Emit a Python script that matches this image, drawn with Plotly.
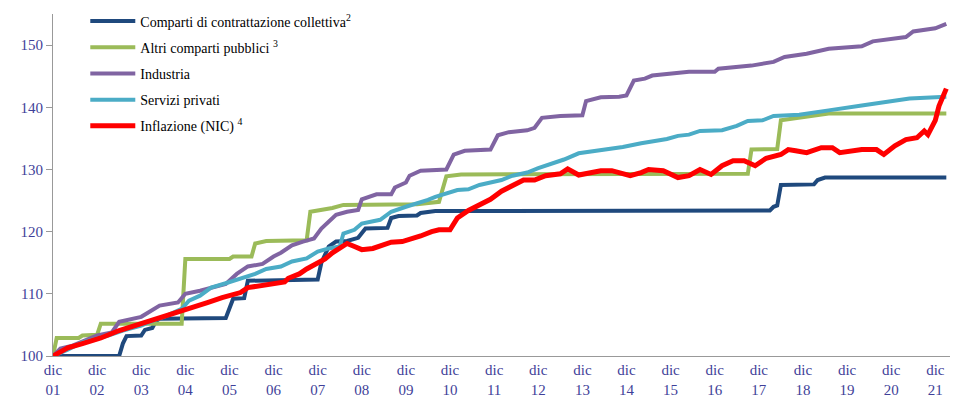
import plotly.graph_objects as go

# Month index: 0 = December 2001
tick_months = [0, 12, 24, 36, 48, 60, 72, 84, 96, 108, 120, 132, 144, 156, 168, 180, 192, 204, 216, 228, 240]
tick_labels = ["dic<br>01", "dic<br>02", "dic<br>03", "dic<br>04", "dic<br>05", "dic<br>06", "dic<br>07",
               "dic<br>08", "dic<br>09", "dic<br>10", "dic<br>11", "dic<br>12", "dic<br>13", "dic<br>14",
               "dic<br>15", "dic<br>16", "dic<br>17", "dic<br>18", "dic<br>19", "dic<br>20", "dic<br>21"]

blue_months = [0, 18, 19, 20, 24, 25, 27, 28, 29, 47, 49, 52, 53, 72, 73, 75, 77, 80, 83, 85, 91, 92, 94,
               99, 100, 104, 195, 196, 197, 198, 207, 208, 210, 243]
blue_values = [100, 100, 102, 103.2, 103.3, 104.2, 104.5, 105.6, 106, 106.1, 109.2, 109.3, 112.1, 112.3,
               115, 117.6, 118.4, 118.5, 119, 120.5, 120.6, 122.2, 122.5, 122.6, 123, 123.3, 123.4, 124,
               124.2, 127.5, 127.6, 128.3, 128.7, 128.7]

green_months = [0, 1, 7, 8, 12, 13, 35, 36, 48, 49, 54, 55, 58, 69, 70, 73, 76, 79, 99, 105, 107, 111,
                189, 190, 197, 198, 203, 208, 211, 243]
green_values = [100, 102.9, 102.9, 103.3, 103.4, 105.2, 105.2, 115.6, 115.6, 116, 116, 118.1, 118.5, 118.6,
                123.2, 123.5, 123.8, 124.3, 124.4, 124.8, 128.9, 129.2, 129.3, 133.2, 133.3, 137.9, 138.3,
                138.7, 139, 139]

purple_months = [0, 2, 5, 8, 12, 16, 18, 24, 26, 29, 34, 36, 40, 43, 47, 50, 53, 57, 60, 62, 65, 68, 71,
                 73, 75, 77, 80, 83, 84, 88, 92, 93, 96, 97, 100, 104, 107, 109, 112, 119, 121, 124, 129,
                 131, 133, 138, 144, 145, 149, 154, 156, 158, 161, 163, 168, 173, 180, 181, 190, 196, 199,
                 205, 211, 220, 223, 232, 234, 240, 243]
purple_values = [100, 101.2, 101.6, 102.3, 103.3, 103.8, 105.5, 106.3, 107, 108.1, 108.6, 110, 110.5, 111,
                 111.6, 113.2, 114.4, 114.8, 116, 116.6, 117.8, 118.4, 118.9, 120.5, 121.6, 122.7, 123.2,
                 123.5, 125.2, 126, 126, 127.1, 127.9, 129, 129.8, 130, 130, 132.4, 133, 133.2, 135.5, 136,
                 136.3, 136.7, 138.3, 138.6, 138.7, 141, 141.6, 141.7, 141.9, 144.3, 144.6, 145.1, 145.4,
                 145.7, 145.7, 146.2, 146.7, 147.3, 148.1, 148.6, 149.4, 149.8, 150.6, 151.3, 152.2, 152.7,
                 153.4]

cyan_months = [0, 4, 8, 15, 19, 24, 26, 31, 35, 37, 40, 43, 47, 51, 55, 58, 62, 65, 69, 72, 75, 78, 79, 82,
               84, 89, 92, 96, 99, 102, 104, 106, 110, 113, 116, 119, 122, 125, 129, 132, 135, 139, 143,
               148, 151, 155, 160, 164, 167, 170, 173, 176, 182, 186, 189, 193, 196, 203, 205, 211, 220,
               227, 233, 243]
cyan_values = [100, 101, 102.2, 103.3, 104.1, 104.9, 105.4, 106.5, 107.6, 108.9, 109.7, 111, 111.7, 112.4,
               113.2, 114, 114.4, 115.2, 115.7, 116.8, 117.3, 117.6, 119.7, 120.3, 121.3, 121.9, 123.2, 124,
               124.5, 125.1, 125.6, 126, 126.7, 126.8, 127.5, 127.9, 128.3, 129, 129.5, 130.2, 130.8, 131.6,
               132.6, 133, 133.3, 133.6, 134.2, 134.6, 134.9, 135.4, 135.6, 136.2, 136.3, 137, 137.8, 137.9,
               138.6, 138.8, 139, 139.5, 140.3, 140.9, 141.4, 141.7]

red_months = [0, 4, 8, 13, 18, 24, 28, 33, 37, 42, 46, 51, 53, 57, 60, 63, 64, 67, 69, 72, 74, 76, 78, 80,
              82, 84, 87, 90, 92, 95, 97, 100, 103, 105, 108, 110, 113, 115, 119, 122, 125, 128, 131, 134,
              138, 140, 143, 146, 149, 152, 157, 160, 162, 166, 170, 173, 176, 179, 182, 185, 188, 191, 194,
              198, 200, 202, 205, 209, 212, 214, 220, 224, 226, 229, 232, 235, 237, 238, 240, 241, 242, 243]
red_values = [100, 101.3, 102, 102.9, 104.1, 105.2, 106, 106.8, 107.6, 108.6, 109.4, 110.2, 111, 111.3,
              111.7, 111.9, 112.5, 113.2, 114, 114.9, 115.6, 116.6, 117.3, 118.1, 117.6, 117.1, 117.3, 117.9,
              118.3, 118.4, 118.7, 119.3, 120, 120.3, 120.3, 122.2, 123.4, 124, 125.2, 126.5, 127.4, 128.3,
              128.3, 129, 129.3, 130.1, 129.1, 129.5, 129.8, 129.8, 129, 129.5, 130, 129.8, 128.7, 129, 130,
              129.2, 130.6, 131.4, 131.4, 130.6, 131.8, 132.4, 133.2, 133, 132.7, 133.5, 133.5, 132.7, 133.2,
              133.2, 132.4, 133.8, 134.8, 135.1, 136.2, 135.6, 137.9, 140.2, 141.7, 143]

series = [
    ("Comparti di contrattazione collettiva<sup>2</sup>", blue_months, blue_values, "#1F497D", 4),
    ("Altri comparti pubblici <sup>3</sup>", green_months, green_values, "#9BBB59", 4),
    ("Industria", purple_months, purple_values, "#8064A2", 4),
    ("Servizi privati", cyan_months, cyan_values, "#4BACC6", 4),
    ("Inflazione (NIC) <sup>4</sup>", red_months, red_values, "#FF0000", 5),
]

fig = go.Figure()
for i, (name, xs, ys, color, w) in enumerate(series):
    fig.add_trace(go.Scatter(x=xs, y=ys, mode="lines", name=name, legendgroup=str(i),
                             line=dict(color=color, width=w)))

serif = "Times New Roman, Liberation Serif, serif"
tick_font = dict(family=serif, size=15, color="#3F3F99")
fig.update_layout(
    width=955, height=397,
    margin=dict(l=53, r=5, t=10, b=41),
    paper_bgcolor="white", plot_bgcolor="white",
    showlegend=True,
    legend=dict(x=0.036, y=1.025, xanchor="left", yanchor="top", bgcolor="rgba(0,0,0,0)",
                font=dict(family=serif, size=14, color="black"),
                itemwidth=45, traceorder="grouped", tracegroupgap=5),
    xaxis=dict(range=[0, 244], tickvals=tick_months, ticktext=tick_labels, showgrid=False,
               zeroline=False, showline=True, linecolor="#999999", linewidth=1, ticks="",
               tickfont=tick_font, automargin=False),
    yaxis=dict(range=[100, 155], tickvals=[100, 110, 120, 130, 140, 150], showgrid=False,
               zeroline=False, showline=True, linecolor="#999999", linewidth=1, ticks="outside",
               ticklen=6, tickcolor="#999999", tickfont=tick_font, automargin=False),
)
fig.write_html("out.html", config={"displayModeBar": False},
               post_script="document.body.style.margin='0';document.body.style.overflow='hidden';")
